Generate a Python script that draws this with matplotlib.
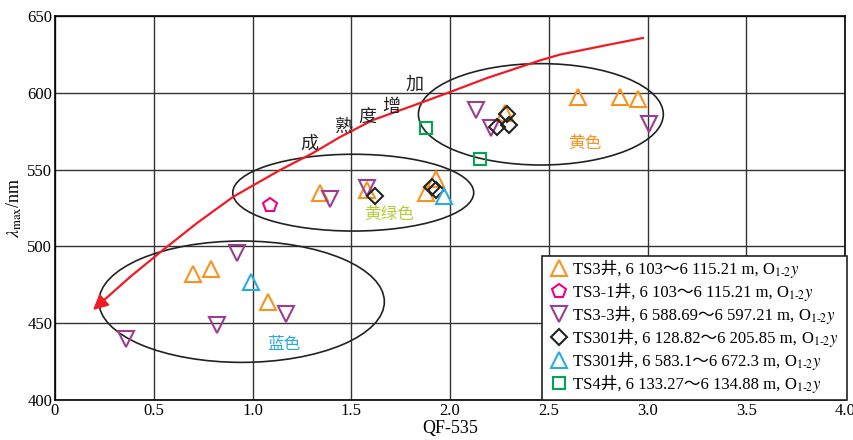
import matplotlib
matplotlib.use('Agg')
import matplotlib.pyplot as plt
from matplotlib.patches import Ellipse, Rectangle
from matplotlib.transforms import IdentityTransform, Bbox

plt.rcParams['font.family'] = ['Liberation Serif', 'Noto Sans CJK SC']
plt.rcParams['mathtext.fontset'] = 'stix'

# DATA
TS3_X = [0.70, 0.79, 1.08, 1.34, 1.58, 1.88, 1.93, 2.28, 2.65, 2.86, 2.95]
TS3_Y = [482, 485, 464, 535, 537, 535, 544, 587, 597, 597, 596]

TS3_1_X = [1.09]
TS3_1_Y = [527]

TS3_3_X = [0.36, 0.82, 0.92, 1.17, 1.39, 1.58, 2.13, 2.21, 3.01]
TS3_3_Y = [440, 449, 496, 456, 531, 538, 589, 577, 580]

TS301A_X = [1.62, 1.91, 1.93, 2.24, 2.30, 2.29]
TS301A_Y = [533, 539, 537, 578, 579, 586]

TS301B_X = [0.99, 1.97]
TS301B_Y = [477, 533]

TS4_X = [1.88, 2.15]
TS4_Y = [577, 557]

LABEL_SUMUR = ['TS3井, 6 103～6 115.21 m,',
               'TS3-1井, 6 103～6 115.21 m,',
               'TS3-3井, 6 588.69～6 597.21 m,',
               'TS301井, 6 128.82～6 205.85 m,',
               'TS301井, 6 583.1～6 672.3 m,',
               'TS4井, 6 133.27～6 134.88 m,']
LABEL_LAPISAN = r'O$_{1\text{-}2}\mathit{y}$'

# ellips: (pusat x, pusat y, lebar, tinggi)
ELIPS = [(0.945, 464, 1.445, 79), (1.51, 535, 1.22, 50), (2.46, 586, 1.24, 66)]

# kurva kematangan (dari atas ke ujung panah)
KURVA_X = [2.977, 2.795, 2.557, 2.456, 2.187, 2.0, 1.863, 1.61, 1.443,
           1.306, 1.139, 0.901, 0.719, 0.547, 0.38, 0.192]
KURVA_Y = [635.7, 631.1, 624.9, 621.1, 609.6, 600.5, 594, 582.3, 571.2,
           560.8, 549.7, 532.2, 515.2, 497.7, 480.1, 458.6]

LABEL_ARAH = ['成', '熟', '度', '增', '加']
LABEL_ARAH_X = [1.29, 1.46, 1.58, 1.70, 1.82]
LABEL_ARAH_Y = [567, 578, 584.5, 591, 605]

fig = plt.figure(figsize=(8.54, 4.4), dpi=100)
ax = fig.add_axes([0.0644, 0.0909, 0.9251, 0.8727])

ax.set_xlim(0, 4.0)
ax.set_ylim(400, 650)
ax.set_xticks([0, 0.5, 1.0, 1.5, 2.0, 2.5, 3.0, 3.5, 4.0])
ax.set_xticklabels(['0', '0.5', '1.0', '1.5', '2.0', '2.5', '3.0', '3.5', '4.0'])
ax.set_yticks([400, 450, 500, 550, 600, 650])
ax.grid(True, color='#333333', linewidth=1.0)
ax.set_axisbelow(True)
ax.tick_params(length=0, labelsize=12, pad=2)
for s in ax.spines.values():
    s.set_linewidth(1.2)
ax.set_xlabel('QF-535', fontsize=13, labelpad=1)
ax.set_ylabel(r'$\mathit{\lambda}_{\mathrm{max}}$/nm', fontsize=13, labelpad=2)

for cx, cy, w, h in ELIPS:
    ax.add_patch(Ellipse((cx, cy), w, h, fill=False, edgecolor='#222222',
                         linewidth=1.2, zorder=2))

ax.plot(KURVA_X[:-1], KURVA_Y[:-1], color='#ee1c24', linewidth=1.6, zorder=3)
ax.annotate('', xy=(KURVA_X[-1], KURVA_Y[-1]), xytext=(KURVA_X[-2], KURVA_Y[-2]),
            arrowprops=dict(arrowstyle='-|>', color='#ee1c24', lw=1.6,
                            mutation_scale=22, shrinkA=0, shrinkB=0), zorder=3)

for t, x, y in zip(LABEL_ARAH, LABEL_ARAH_X, LABEL_ARAH_Y):
    ax.text(x, y, t, fontsize=13, ha='center', va='center', color='#222222',
            family='Noto Sans CJK SC')

ax.text(1.69, 521, '黄绿色', fontsize=12, color='#b5cc3a', ha='center',
        va='center', family='Noto Sans CJK SC')
ax.text(2.68, 567, '黄色', fontsize=12, color='#f7931e', ha='center',
        va='center', family='Noto Sans CJK SC')
ax.text(1.16, 436, '蓝色', fontsize=12, color='#29abe2', ha='center',
        va='center', family='Noto Sans CJK SC')

kw = dict(linestyle='none', fillstyle='none', markeredgewidth=1.5, zorder=4)
h1, = ax.plot(TS3_X, TS3_Y, marker='^', ms=11, color='#f7931e', **kw)
h2, = ax.plot(TS3_1_X, TS3_1_Y, marker='p', ms=10, color='#ec008c', **kw)
h3, = ax.plot(TS3_3_X, TS3_3_Y, marker='v', ms=11, color='#9e3d8f', **kw)
h4, = ax.plot(TS301A_X, TS301A_Y, marker='D', ms=8, color='#222222', **kw)
h5, = ax.plot(TS301B_X, TS301B_Y, marker='^', ms=11, color='#29abe2', **kw)
h6, = ax.plot(TS4_X, TS4_Y, marker='s', ms=9, color='#00a651', **kw)

leg = ax.legend([h1, h2, h3, h4, h5, h6], LABEL_SUMUR,
                loc='lower left', bbox_to_anchor=(0.628, 0.018), fontsize=12,
                frameon=False, handlelength=1.0, handletextpad=0.3,
                borderpad=0.0, labelspacing=0.4, borderaxespad=0)
leg.set_zorder(6)

# bagian O1-2y ditulis terpisah (mathtext tidak bisa fallback ke font CJK)
fig.canvas.draw()
rnd = fig.canvas.get_renderer()
W, H = fig.bbox.width, fig.bbox.height
kotak = [leg.get_window_extent(rnd)]
for t in leg.get_texts():
    bb = t.get_window_extent(rnd)
    desc = t._get_layout(rnd)[2]
    sub = fig.text((bb.x1 + 4) / W, (bb.y0 + desc) / H, LABEL_LAPISAN,
                   fontsize=12, ha='left', va='baseline', zorder=7)
    kotak.append(sub.get_window_extent(rnd))

bb = Bbox.union(kotak)
padx, pady = 9, 5
ax.add_patch(Rectangle((bb.x0 - padx, bb.y0 - pady), bb.width + 2 * padx,
                       bb.height + 2 * pady, transform=IdentityTransform(),
                       facecolor='white', edgecolor='#222222', linewidth=1.2,
                       clip_on=False, zorder=5))

plt.savefig('out.png', dpi=100)
plt.close(fig)
